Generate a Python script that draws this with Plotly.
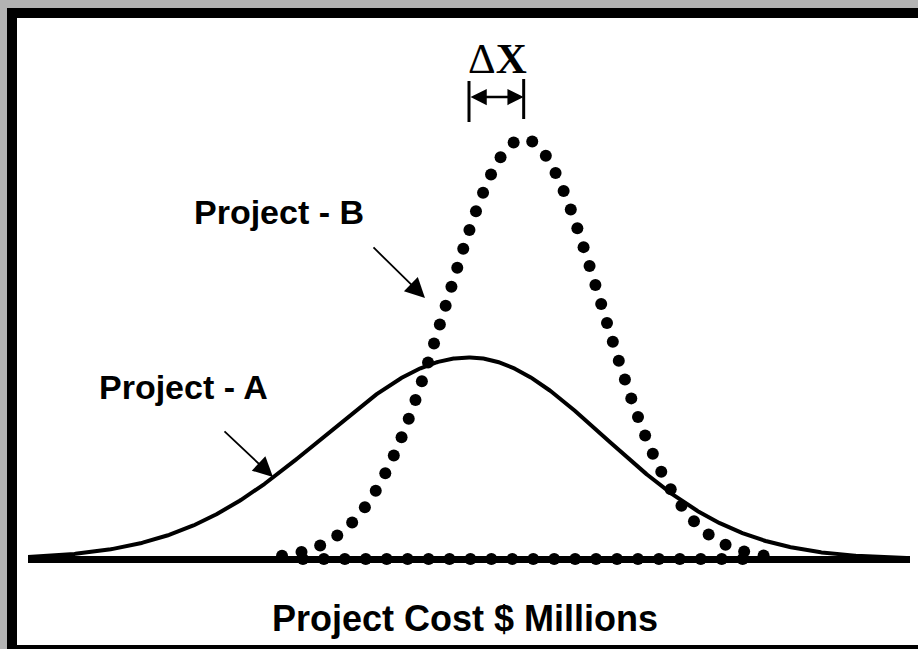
import numpy as np
import plotly.graph_objects as go

# ---------------- data (cost in $ millions, relative likelihood) ----------------
COST_RANGE = [0.0, 100.0]
LIKELIHOOD_RANGE = [0.0, 1.0]

PROJECT_A_MEAN = 50.0
PROJECT_A_SD_LEFT = 16.5
PROJECT_A_SD_RIGHT = 15.3
PROJECT_A_PEAK = 0.48

PROJECT_B_MEAN = 56.2
PROJECT_B_SD = 8.8
PROJECT_B_PEAK = 1.0
PROJECT_B_START = 28.8
PROJECT_B_END = 83.4

LABEL_A = "Project - A"
LABEL_B = "Project - B"
X_TITLE = "Project Cost $ Millions"
DELTA_LABEL = "Δ<b>X</b>"

# ---------------- layout geometry (pixels) ----------------
W, H = 918, 649
PL, PR, PT, PB = 28, 910, 139, 559   # plot area edges


def px_x(px):
    return (px - PL) / (PR - PL)


def px_y(py):
    return (PB - py) / (PB - PT)


SX = (PR - PL) / (COST_RANGE[1] - COST_RANGE[0])
SY = (PB - PT) / (LIKELIHOOD_RANGE[1] - LIKELIHOOD_RANGE[0])


def curve_a(x):
    sd = np.where(x < PROJECT_A_MEAN, PROJECT_A_SD_LEFT, PROJECT_A_SD_RIGHT)
    return PROJECT_A_PEAK * np.exp(-0.5 * ((x - PROJECT_A_MEAN) / sd) ** 2)


def curve_b(x):
    return PROJECT_B_PEAK * np.exp(-0.5 * ((x - PROJECT_B_MEAN) / PROJECT_B_SD) ** 2)


xa = np.linspace(COST_RANGE[0], COST_RANGE[1], 801)
ya = curve_a(xa)

# dots of project B evenly spaced along the drawn curve, then along the base
xf = np.linspace(PROJECT_B_START, PROJECT_B_END, 4000)
yf = curve_b(xf)
seg = np.hypot(np.diff(xf) * SX, np.diff(yf) * SY)
arc = np.concatenate([[0], np.cumsum(seg)])
n = int(round(arc[-1] / 20.0))
s = np.linspace(0, arc[-1], n + 1)
xb = np.interp(s, arc, xf)
yb = np.interp(s, arc, yf)
nb = int(round((PROJECT_B_END - PROJECT_B_START) * SX / 21.0))
xbase = np.linspace(PROJECT_B_START, PROJECT_B_END, nb + 1)[1:-1]
xb = np.concatenate([xb, xbase])
yb = np.concatenate([yb, np.zeros_like(xbase)])

fig = go.Figure()
fig.add_trace(go.Scatter(x=xa, y=ya, mode="lines",
                         line=dict(color="black", width=4),
                         cliponaxis=False, hoverinfo="skip"))
fig.add_trace(go.Scatter(x=xb, y=yb, mode="markers",
                         marker=dict(color="black", size=12, line=dict(width=0)),
                         cliponaxis=False, hoverinfo="skip"))

shapes = [
    # black frame and white panel
    dict(type="rect", xref="paper", yref="paper",
         x0=px_x(7), x1=px_x(940), y0=px_y(8), y1=px_y(660),
         fillcolor="black", line=dict(width=0), layer="below"),
    dict(type="rect", xref="paper", yref="paper",
         x0=px_x(17), x1=px_x(940), y0=px_y(18), y1=px_y(645),
         fillcolor="white", line=dict(width=0), layer="below"),
    # delta-x bars at the two means
    dict(type="line", xref="x", yref="paper",
         x0=PROJECT_A_MEAN, x1=PROJECT_A_MEAN, y0=px_y(81), y1=px_y(122),
         line=dict(color="black", width=3)),
    dict(type="line", xref="x", yref="paper",
         x0=PROJECT_B_MEAN, x1=PROJECT_B_MEAN, y0=px_y(79), y1=px_y(119),
         line=dict(color="black", width=3)),
]

label_font = dict(family="Liberation Sans, Arial, sans-serif", size=34,
                  color="black", weight="bold")
annotations = [
    dict(xref="x", yref="paper", x=PROJECT_B_MEAN, y=px_y(97),
         axref="x", ax=PROJECT_A_MEAN, ay=0, text="", showarrow=True,
         arrowside="end+start", arrowhead=2, startarrowhead=2,
         arrowsize=1.3, startarrowsize=1.3, arrowwidth=2.5,
         standoff=0, startstandoff=0, arrowcolor="black"),
    dict(xref="paper", yref="paper", x=px_x(498), y=px_y(58),
         text=DELTA_LABEL, showarrow=False, xanchor="center", yanchor="middle",
         font=dict(family="Liberation Serif, Times New Roman, serif", size=43,
                   color="black")),
    dict(xref="paper", yref="paper", x=px_x(279), y=px_y(212),
         text=LABEL_B, showarrow=False, xanchor="center", yanchor="middle",
         font=label_font),
    dict(xref="paper", yref="paper", x=px_x(183), y=px_y(387),
         text=LABEL_A, showarrow=False, xanchor="center", yanchor="middle",
         font=label_font),
    dict(xref="paper", yref="paper", x=px_x(425), y=px_y(298),
         ax=-53, ay=-52, text="", showarrow=True, arrowhead=2,
         arrowsize=2.2, arrowwidth=1.8, arrowcolor="black", standoff=0),
    dict(xref="paper", yref="paper", x=px_x(273), y=px_y(477),
         ax=-50, ay=-47, text="", showarrow=True, arrowhead=2,
         arrowsize=2.2, arrowwidth=1.8, arrowcolor="black", standoff=0),
    dict(xref="paper", yref="paper", x=px_x(465), y=px_y(618),
         text=X_TITLE, showarrow=False, xanchor="center", yanchor="middle",
         font=dict(family="Liberation Sans, Arial, sans-serif", size=36,
                   color="black", weight="bold")),
]

fig.update_layout(
    width=W, height=H,
    margin=dict(l=PL, r=W - PR, t=PT, b=H - PB, pad=0),
    paper_bgcolor="#b3b3b3",
    plot_bgcolor="rgba(0,0,0,0)",
    showlegend=False,
    shapes=shapes,
    annotations=annotations,
    xaxis=dict(range=COST_RANGE, visible=True, showgrid=False, zeroline=False,
               showticklabels=False, ticks="", showline=False, fixedrange=True),
    yaxis=dict(range=LIKELIHOOD_RANGE, showgrid=False, zeroline=True,
               zerolinecolor="black", zerolinewidth=7,
               showticklabels=False, ticks="", showline=False, fixedrange=True),
)

fig.write_html(
    "out.html",
    config={"displayModeBar": False},
    post_script="document.body.style.margin='0';document.body.style.overflow='hidden';",
)
